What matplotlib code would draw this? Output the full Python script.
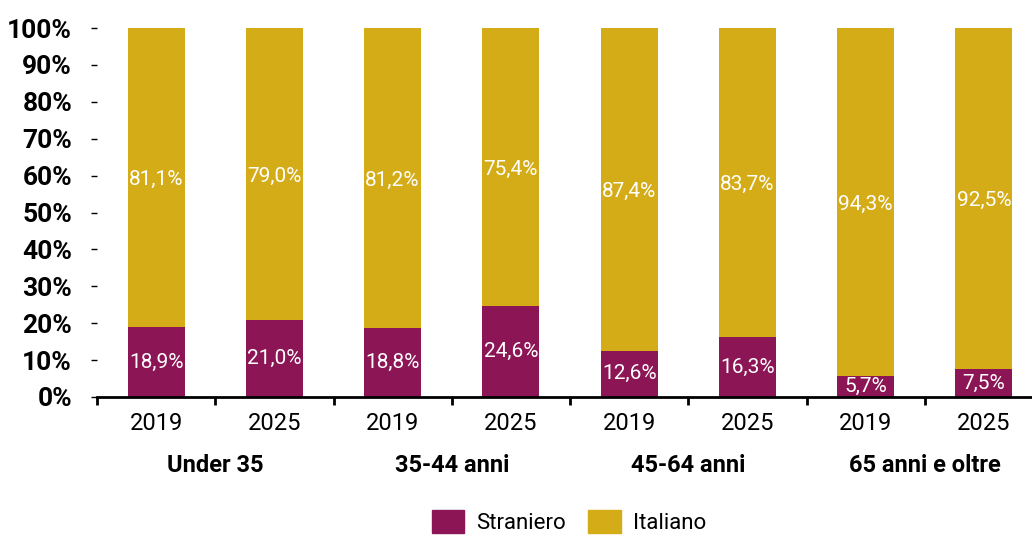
import matplotlib
matplotlib.use("Agg")
import matplotlib.pyplot as plt
from matplotlib.patches import Patch
import numpy as np

groups = ["Under 35", "35-44 anni", "45-64 anni", "65 anni e oltre"]
years = ["2019", "2025", "2019", "2025", "2019", "2025", "2019", "2025"]
straniero = [18.9, 21.0, 18.8, 24.6, 12.6, 16.3, 5.7, 7.5]
italiano = [81.1, 79.0, 81.2, 75.4, 87.4, 83.7, 94.3, 92.5]
yticks = [0, 10, 20, 30, 40, 50, 60, 70, 80, 90, 100]

c_str = "#8C1655"
c_ita = "#D4AC18"
FONT = ["Roboto", "DejaVu Sans"]
plt.rcParams["font.family"] = FONT

W, H = 1032, 535
fig = plt.figure(figsize=(W / 100, H / 100), dpi=100)
ax = fig.add_axes([97 / W, 1 - 397 / H, 946 / W, 369 / H])

x = np.arange(len(years))
bw = 0.48
ax.bar(x, straniero, bw, color=c_str, label="Straniero")
ax.bar(x, italiano, bw, bottom=straniero, color=c_ita, label="Italiano")

def fmt(v):
    return f"{v:.1f}%".replace(".", ",")

for i in range(len(x)):
    ax.text(x[i], straniero[i] / 2, fmt(straniero[i]),
            ha="center", va="center", color="white", fontsize=15)
    ax.text(x[i], straniero[i] + italiano[i] / 2 - 0.6, fmt(italiano[i]),
            ha="center", va="center", color="white", fontsize=15)

ax.set_xlim(-0.5, len(years) - 0.5)
ax.set_ylim(0, 100)
ax.set_yticks(yticks)
ax.set_yticklabels([f"{v}%" for v in yticks], fontsize=19, fontweight="bold")
ax.tick_params(axis="y", length=4, width=1, pad=14, direction="out")
for s in ["top", "right", "left"]:
    ax.spines[s].set_visible(False)
ax.spines["bottom"].set_linewidth(2)

ax.set_xticks(np.arange(-0.5, len(years), 1.0))
ax.set_xticklabels([])
ax.tick_params(axis="x", length=6, width=2)
for i, yl in enumerate(years):
    ax.text(x[i], -7.3, yl, ha="center", va="center", fontsize=17)
for g, name in enumerate(groups):
    ax.text(2 * g + 0.5, -18.5, name, ha="center", va="center", fontsize=17, fontweight="bold")

handles = [Patch(color=c_str, label="Straniero"), Patch(color=c_ita, label="Italiano")]
fig.legend(handles=handles, loc="center", bbox_to_anchor=(569 / W, 1 - 522 / H), ncol=2,
           frameon=False, fontsize=16, handlelength=1.45, handleheight=1.2, columnspacing=1.0,
           handletextpad=0.55, borderaxespad=0)

fig.savefig("out.png", dpi=100)
